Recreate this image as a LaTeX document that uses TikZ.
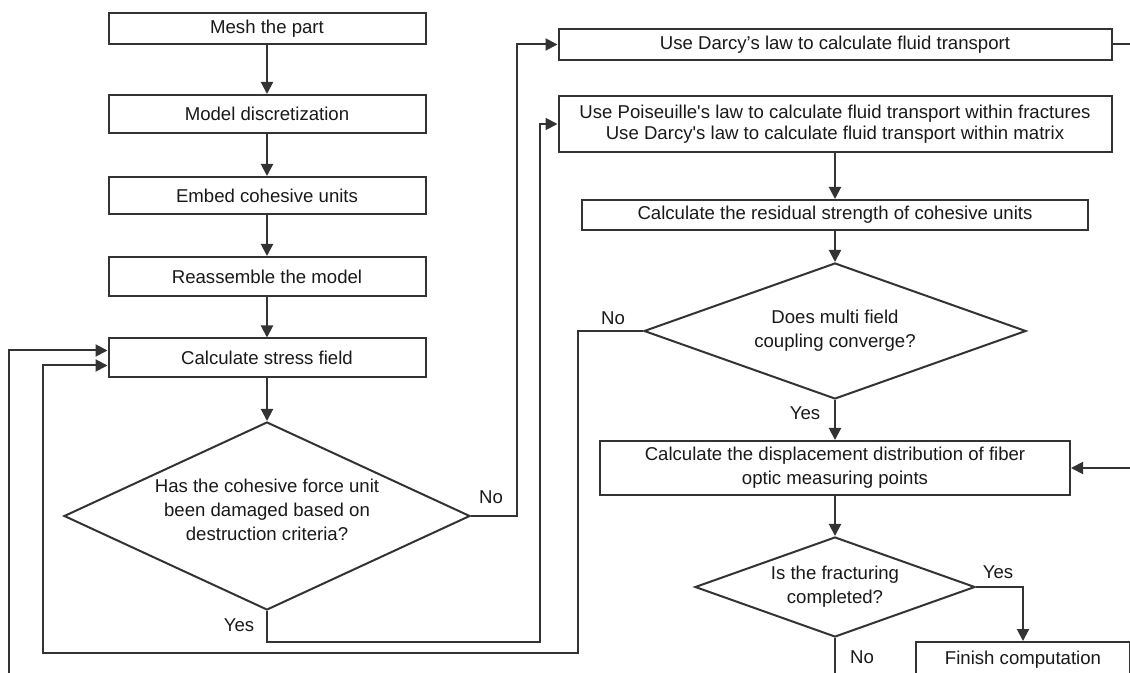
\documentclass[tikz,border=0pt]{standalone}
\usepackage{fontspec}
\setmainfont{Liberation Sans}
\usetikzlibrary{shapes.geometric, arrows.meta, calc}

\begin{document}
\begin{tikzpicture}[x=0.5pt,y=-0.5pt,
  txt/.style={font=\fontsize{9.3}{12}\selectfont, text=black!90},
  proc/.style={txt, draw=black!80, line width=1pt, rectangle, inner sep=0pt, align=center},
  decision/.style={txt, draw=black!80, line width=1pt, diamond, inner sep=0pt, align=center},
  link/.style={draw=black!80, line width=1pt},
  flow/.style={link, -{Triangle[length=6pt,width=6pt]}},
  tag/.style={txt, inner sep=0pt}]
\clip (0,0) rectangle (1130,673);
% left column
\node[proc, minimum width=158.5pt, minimum height=15.5pt] (mesh) at (267,28.5) {Mesh the part};
\node[proc, minimum width=158.5pt, minimum height=19pt] (model) at (267,114) {Model discretization};
\node[proc, minimum width=158.5pt, minimum height=18.5pt] (embed) at (267,195.5) {Embed cohesive units};
\node[proc, minimum width=158.5pt, minimum height=19.5pt] (reasm) at (267,276.5) {Reassemble the model};
\node[proc, minimum width=158.5pt, minimum height=19.5pt] (stress) at (267,358) {Calculate stress field};
\node[decision, minimum width=203pt, minimum height=94pt] (dmg) at (267,516) {};
\node[tag, align=center] (dmgtxt) at (267,510)
  {Has the cohesive force unit\\been damaged based on\\destruction criteria?};
% right column
\node[proc, minimum width=276.5pt, minimum height=15.5pt] (darcy) at (835,44.5) {Use Darcy’s law to calculate fluid transport};
\node[proc, minimum width=276.5pt, minimum height=28pt, font=\fontsize{9.3}{10.8}\selectfont] (poise) at (835,124)
  {Use Poiseuille\textquotesingle s law to calculate fluid transport within fractures\\Use Darcy\textquotesingle s law to calculate fluid transport within matrix};
\node[proc, minimum width=253pt, minimum height=15pt] (resid) at (835,215) {Calculate the residual strength of cohesive units};
\node[decision, minimum width=191pt, minimum height=68pt, aspect=2.8] (conv) at (835,331) {Does multi field\\coupling converge?};
\node[proc, minimum width=235pt, minimum height=27pt] (disp) at (835,468)
  {Calculate the displacement distribution of fiber\\optic measuring points};
\node[decision, minimum width=140pt, minimum height=50pt, aspect=2.8] (frac) at (835,587) {Is the fracturing\\completed?};
\node[proc, minimum width=107pt, minimum height=18pt] (finish) at (1023,660) {Finish computation};
% free ends at the picture edge
\coordinate (edgeL) at (9,673);
\coordinate (edgeR) at (1130,44.5);
\coordinate (edgeR2) at (1130,468);
\coordinate (edgeB) at (835,673);
% labels
\node[tag] (noA) at (491,497) {No};
\node[tag] (yesA) at (239,625) {Yes};
\node[tag] (noB) at (613,318) {No};
\node[tag] (yesB) at (805,413) {Yes};
\node[tag] (yesC) at (998,572) {Yes};
\node[tag] (noC) at (862,657) {No};
% connectors
\draw[flow] (mesh) -- (model);
\draw[flow] (model) -- (embed);
\draw[flow] (embed) -- (reasm);
\draw[flow] (reasm) -- (stress);
\draw[flow] (stress) -- (dmg);
\draw[flow] (dmg.east) -- ++(46,0) |- (darcy.west);
\draw[flow] (dmg.south) -- ++(0,31) -- ++(273,0) |- (poise.west);
\draw[flow] (poise) -- (resid);
\draw[flow] (resid) -- (conv);
\draw[flow] (conv.west) -- ++(-65,0) -- ++(0,322) -| (43,500) |- ($(stress.west)+(0,7.5)$);
\draw[flow] (edgeL) |- ($(stress.west)+(0,-7.5)$);
\draw[flow] (conv) -- (disp);
\draw[link] (darcy.east) -- (edgeR);
\draw[flow] (edgeR2) -- (disp.east);
\draw[flow] (disp) -- (frac);
\draw[flow] (frac.east) -| (finish.north);
\draw[link] (frac.south) -- (edgeB);
\end{tikzpicture}
\end{document}
